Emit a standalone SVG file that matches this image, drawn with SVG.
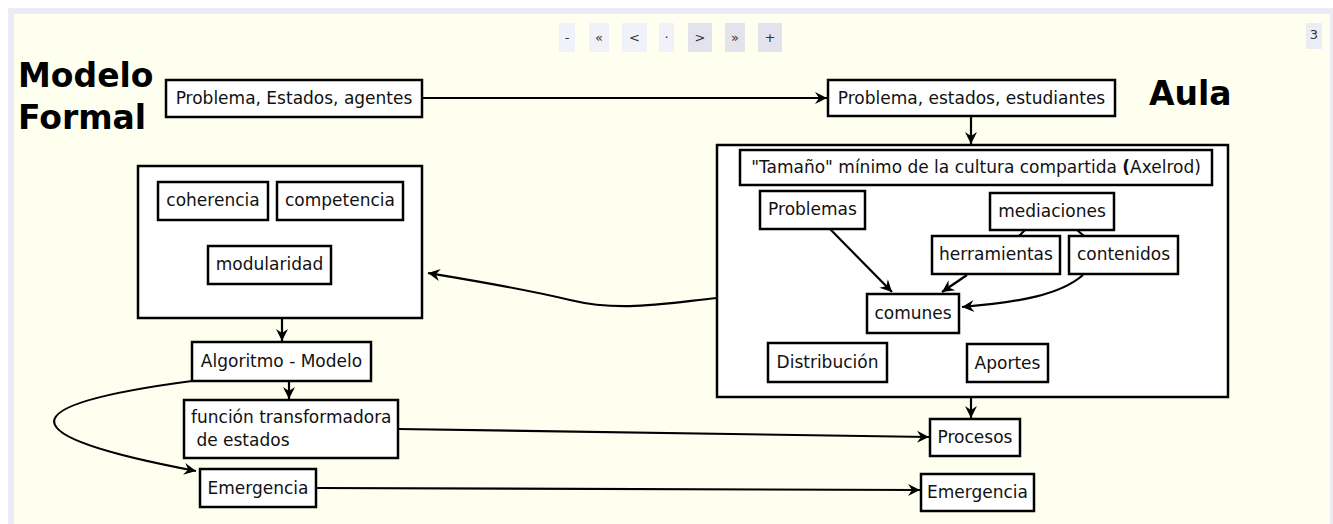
<svg xmlns="http://www.w3.org/2000/svg" width="1333" height="524" viewBox="0 0 1333 524">
<style>
.n{fill:#fff;stroke:#000;stroke-width:2.5}
.t{font-family:"DejaVu Sans",sans-serif;font-size:17px;fill:#111;text-anchor:middle}
.tl{font-family:"DejaVu Sans",sans-serif;font-size:17px;fill:#111}
.h{font-family:"DejaVu Sans",sans-serif;font-size:33px;font-weight:bold;fill:#000}
.e{fill:none;stroke:#000;stroke-width:2.2}
.btn{font-family:"DejaVu Sans",sans-serif;font-size:13px;fill:#333;text-anchor:middle}
</style>
<defs>
<marker id="a" viewBox="-13 -7 14 14" refX="0" refY="0" markerWidth="14" markerHeight="14" markerUnits="userSpaceOnUse" orient="auto">
<path d="M0,0 L-12,-6 L-8,0 L-12,6 Z" fill="#000"/>
</marker>
</defs>
<rect width="1333" height="524" fill="#fff"/>
<rect x="8" y="8" width="1325" height="516" fill="#ececf7"/>
<rect x="14" y="14" width="1316" height="510" fill="#fffff0"/>
<g id="toolbar">
<rect x="559" y="23" width="16" height="29" fill="#f1f1f9"/><text class="btn" x="567" y="42">-</text>
<rect x="589" y="23" width="20" height="29" fill="#f1f1f9"/><text class="btn" x="599" y="42">«</text>
<rect x="622" y="23" width="25" height="29" fill="#f1f1f9"/><text class="btn" x="634.5" y="42" font-size="15">&lt;</text>
<rect x="659" y="23" width="15" height="29" fill="#f1f1f9"/><text class="btn" x="666.5" y="42">·</text>
<rect x="688" y="23" width="24" height="29" fill="#e3e3ee"/><text class="btn" x="700" y="42" font-size="15">&gt;</text>
<rect x="725" y="23" width="20" height="29" fill="#e3e3ee"/><text class="btn" x="735" y="42">»</text>
<rect x="758" y="23" width="24" height="29" fill="#e3e3ee"/><text class="btn" x="770" y="42" font-size="15">+</text>
<rect x="1306" y="23" width="16" height="26" fill="#ececf6"/><text class="btn" x="1314" y="39" font-size="9" fill="#555">3</text>
</g>
<g id="titles">
<text class="h" x="18" y="87">Modelo</text>
<text class="h" x="18" y="129">Formal</text>
<text class="h" x="1149" y="105">Aula</text>
</g>
<g id="n-aula"><rect class="n" x="717" y="145" width="511" height="252"/></g>
<g id="n-left"><rect class="n" x="138" y="166" width="284" height="152"/></g>
<g id="connectors">
<line class="e" x1="422" y1="98" x2="827" y2="98" marker-end="url(#a)"/>
<line class="e" x1="971" y1="116" x2="971" y2="144" marker-end="url(#a)"/>
<line class="e" x1="1025" y1="230" x2="1019" y2="236"/>
<line class="e" x1="1077" y1="230" x2="1084" y2="236"/>
<line class="e" x1="830" y1="229" x2="892" y2="292" marker-end="url(#a)"/>
<line class="e" x1="967" y1="275" x2="942" y2="292" marker-end="url(#a)"/>
<path class="e" d="M1083,275 C1060,295 1020,302 962,307" marker-end="url(#a)"/>
<path class="e" d="M717,298 C660,304 620,312 570,300 C520,288 470,280 428,273" marker-end="url(#a)"/>
<line class="e" x1="282" y1="318" x2="282" y2="341" marker-end="url(#a)"/>
<line class="e" x1="289" y1="381" x2="289" y2="399" marker-end="url(#a)"/>
<path class="e" d="M192,381 C10,405 5,435 196,471" marker-end="url(#a)"/>
<line class="e" x1="398" y1="429" x2="929" y2="437" marker-end="url(#a)"/>
<line class="e" x1="971" y1="397" x2="971" y2="418" marker-end="url(#a)"/>
<line class="e" x1="316" y1="488" x2="920" y2="490" marker-end="url(#a)"/>
</g>
<g id="n-pea"><rect class="n" x="166" y="80" width="256" height="37"/><text class="t" x="294" y="104">Problema, Estados, agentes</text></g>
<g id="n-pee"><rect class="n" x="828" y="80" width="287" height="36"/><text class="t" x="971.5" y="104">Problema, estados, estudiantes</text></g>
<g id="n-tam"><rect class="n" x="740" y="150" width="472" height="35"/><text class="t" x="976" y="173">"Tamaño" mínimo de la cultura compartida <tspan font-weight="bold">(</tspan>Axelrod)</text></g>
<g id="n-problemas"><rect class="n" x="760" y="191" width="105" height="38"/><text class="t" x="812.5" y="215">Problemas</text></g>
<g id="n-mediaciones"><rect class="n" x="990" y="193" width="124" height="37"/><text class="t" x="1052" y="217">mediaciones</text></g>
<g id="n-herramientas"><rect class="n" x="932" y="236" width="128" height="38"/><text class="t" x="996" y="260">herramientas</text></g>
<g id="n-contenidos"><rect class="n" x="1069" y="236" width="109" height="38"/><text class="t" x="1123.5" y="260">contenidos</text></g>
<g id="n-comunes"><rect class="n" x="867" y="294" width="92" height="39"/><text class="t" x="913" y="319">comunes</text></g>
<g id="n-distribucion"><rect class="n" x="768" y="343" width="119" height="39"/><text class="t" x="827.5" y="368">Distribución</text></g>
<g id="n-aportes"><rect class="n" x="967" y="344" width="81" height="38"/><text class="t" x="1007.5" y="369">Aportes</text></g>
<g id="n-coherencia"><rect class="n" x="158" y="182" width="110" height="38"/><text class="t" x="213" y="206">coherencia</text></g>
<g id="n-competencia"><rect class="n" x="277" y="182" width="126" height="38"/><text class="t" x="340" y="206">competencia</text></g>
<g id="n-modularidad"><rect class="n" x="208" y="246" width="123" height="38"/><text class="t" x="269.5" y="270">modularidad</text></g>
<g id="n-algoritmo"><rect class="n" x="192" y="342" width="179" height="39"/><text class="t" x="281.5" y="367">Algoritmo - Modelo</text></g>
<g id="n-funcion"><rect class="n" x="184" y="400" width="214" height="58"/><text class="tl" x="191" y="423">función transformadora</text><text class="tl" x="191" y="446" xml:space="preserve"> de estados</text></g>
<g id="n-emergencia-l"><rect class="n" x="200" y="469" width="116" height="38"/><text class="t" x="258" y="494">Emergencia</text></g>
<g id="n-procesos"><rect class="n" x="930" y="419" width="90" height="37"/><text class="t" x="975" y="443">Procesos</text></g>
<g id="n-emergencia-r"><rect class="n" x="921" y="474" width="113" height="37"/><text class="t" x="977.5" y="498">Emergencia</text></g>
</svg>
